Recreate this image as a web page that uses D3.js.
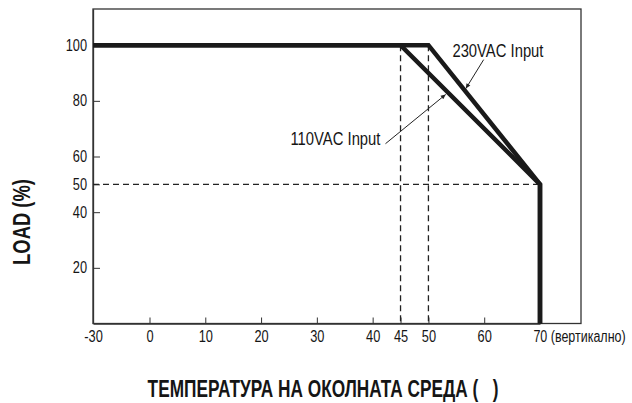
<!DOCTYPE html>
<html>
<head>
<meta charset="utf-8">
<script src="https://cdn.jsdelivr.net/npm/d3@7"></script>
<style>
    body { margin: 0; background: #fff; }
    svg text { font-family: "Liberation Sans", Arial, sans-serif; fill: #151515; }
    .axis path, .axis line { stroke: #333; }
</style>
</head>
<body>
<div class="chart"></div>
<script>
// derating curves (temperature in C, load in %)
var temps230 = [-30, 50, 70, 70];
var load230 = [100, 100, 50, 0];
var temps110 = [-30, 45, 70, 70];
var load110 = [100, 100, 50, 0];

var xTicks = [-30, 0, 10, 20, 30, 40, 45, 50, 60, 70];
var yTicks = [20, 40, 50, 60, 80, 100];

// dashed guide lines
var guideTemps = [45, 50];
var guideLoad = 50;

// annotations: label position and leader line (from -> to) in data units
var noteText = ["230VAC Input", "110VAC Input"];
var noteAt = [[54.3, 95.9], [41.4, 64.2]];
var noteFrom = [[59.9, 94.8], [42.3, 64.6]];
var noteTo = [[56.7, 84.4], [53.1, 82.3]];

var svgWidth = 632;
var svgHeight = 403;
var narrow = 0.8; // the original lettering is a condensed face

var box = { left: 93, top: 9, right: 581, bottom: 323.5 };

var svg = d3.select(".chart")
    .append("svg")
    .attr("width", svgWidth)
    .attr("height", svgHeight);

// -30 sits one division left of 0 (broken axis)
var x = d3.scaleLinear()
    .domain([-30, 0, 70])
    .range([box.left, 149.5, 540]);

var y = d3.scaleLinear()
    .domain([0, 113])
    .range([box.bottom, box.top]);

var defs = svg.append("defs");
defs.append("marker")
    .attr("id", "arrow")
    .attr("viewBox", "0 0 10 10")
    .attr("refX", 10)
    .attr("refY", 5)
    .attr("markerWidth", 8)
    .attr("markerHeight", 5)
    .attr("markerUnits", "userSpaceOnUse")
    .attr("orient", "auto")
    .append("path")
    .attr("d", "M0,0.5 L10,5 L0,9.5 Z")
    .attr("fill", "#222");

// frame
svg.append("rect")
    .attr("x", box.left)
    .attr("y", box.top)
    .attr("width", box.right - box.left)
    .attr("height", box.bottom - box.top)
    .attr("fill", "none")
    .attr("stroke", "#333")
    .attr("stroke-width", 1.3);

// axes with inward ticks
var bottomAxis = d3.axisBottom(x)
    .tickValues(xTicks)
    .tickSizeInner(-6)
    .tickSizeOuter(0)
    .tickPadding(7)
    .tickFormat(d => String(d));

var leftAxis = d3.axisLeft(y)
    .tickValues(yTicks)
    .tickSizeInner(-7)
    .tickSizeOuter(0)
    .tickPadding(6);

var xAxis = svg.append("g")
    .attr("class", "axis")
    .attr("transform", `translate(0, ${box.bottom})`)
    .call(bottomAxis);

var yAxis = svg.append("g")
    .attr("class", "axis")
    .attr("transform", `translate(${box.left}, 0)`)
    .call(leftAxis);

svg.selectAll(".axis path").attr("stroke-width", 1.3);
svg.selectAll(".axis text")
    .attr("font-size", 16)
    .attr("font-family", null)
    .attr("fill", "#151515");

// label at 70 gets the suffix, keeping "70" centred on its tick
xAxis.selectAll(".tick text")
    .filter(d => d === 70)
    .classed("last", true)
    .each(function () {
        var t = d3.select(this);
        var w = this.getComputedTextLength() * narrow;
        t.attr("text-anchor", "start")
            .attr("x", -w / 2)
            .text("70 (вертикално)");
    });

// dashed guides
var guides = svg.append("g")
    .attr("stroke", "#222")
    .attr("stroke-width", 1.3)
    .attr("stroke-dasharray", "6,4")
    .attr("fill", "none");

guides.append("line")
    .attr("x1", x(-30))
    .attr("x2", x(70))
    .attr("y1", y(guideLoad))
    .attr("y2", y(guideLoad));

guides.selectAll(".vguide")
    .data(guideTemps)
    .enter()
    .append("line")
    .attr("class", "vguide")
    .attr("x1", d => x(d))
    .attr("x2", d => x(d))
    .attr("y1", y(100))
    .attr("y2", y(0));

// curves
var line = d3.line()
    .x(d => x(d[0]))
    .y(d => y(d[1]));

var curves = [d3.zip(temps230, load230), d3.zip(temps110, load110)];

svg.selectAll(".curve")
    .data(curves)
    .enter()
    .append("path")
    .attr("class", "curve")
    .attr("d", line)
    .attr("fill", "none")
    .attr("stroke", "#1a1a1a")
    .attr("stroke-width", 4.5)
    .attr("stroke-linejoin", "miter");

// annotations
svg.selectAll(".leader")
    .data(noteText)
    .enter()
    .append("line")
    .attr("class", "leader")
    .attr("x1", (d, i) => x(noteFrom[i][0]))
    .attr("y1", (d, i) => y(noteFrom[i][1]))
    .attr("x2", (d, i) => x(noteTo[i][0]))
    .attr("y2", (d, i) => y(noteTo[i][1]))
    .attr("stroke", "#222")
    .attr("stroke-width", 1)
    .attr("marker-end", "url(#arrow)");

svg.selectAll(".note")
    .data(noteText)
    .enter()
    .append("text")
    .attr("class", "note")
    .attr("x", (d, i) => x(noteAt[i][0]))
    .attr("y", (d, i) => y(noteAt[i][1]))
    .attr("text-anchor", (d, i) => i === 0 ? "start" : "end")
    .attr("font-size", 18.5)
    .text(d => d);

// axis titles
svg.append("text")
    .attr("transform", "translate(30, 222) rotate(-90)")
    .attr("text-anchor", "middle")
    .attr("font-size", 23)
    .attr("font-weight", "bold")
    .text("LOAD (%)");

svg.append("text")
    .attr("class", "xtitle")
    .attr("x", 323)
    .attr("y", 397)
    .attr("text-anchor", "middle")
    .attr("font-size", 23)
    .attr("font-weight", "bold")
    .attr("xml:space", "preserve")
    .style("white-space", "pre")
    .text("ТЕМПЕРАТУРА НА ОКОЛНАТА СРЕДА (   )");

// squeeze every label to the condensed width
svg.selectAll("text").each(function () {
    var s = d3.select(this);
    var k = s.classed("xtitle") ? 0.75 : s.classed("last") ? 0.78 : narrow;
    var w = this.getComputedTextLength();
    s.attr("textLength", w * k)
        .attr("lengthAdjust", "spacingAndGlyphs");
});
</script>
</body>
</html>
